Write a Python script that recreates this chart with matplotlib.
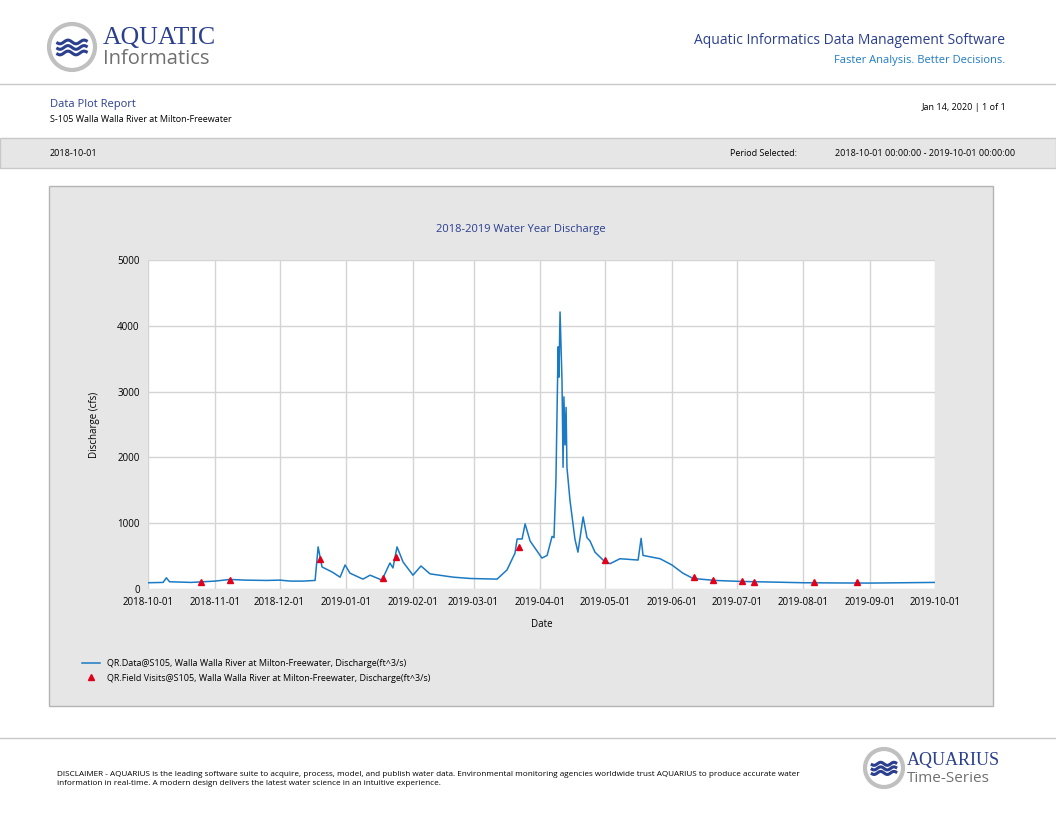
import numpy as np
import pandas as pd
import matplotlib
matplotlib.use("Agg")
import matplotlib.pyplot as plt
import matplotlib.dates as mdates
from matplotlib.patches import Rectangle, Circle

plt.rcParams['font.family'] = ['Open Sans', 'DejaVu Sans']

# discharge series: days since 2018-10-01, cfs
q_day = [0, 7, 8.5, 10, 20, 31, 38, 45, 55, 61.2, 66, 71.9, 77.5, 78.9, 80.7, 85.3, 89.1,
         91.4, 93.7, 99.7, 103, 108.5, 112.2, 113.6, 115.5, 118.3, 122.9, 126.6, 130.8,
         141.5, 149.4, 161.9, 166.5, 170.2, 171.2, 173.5, 174.9, 177.2, 182.7, 185.1,
         187.4, 188.3, 189.2, 190.2, 190.6, 191.1, 192, 192.5, 192.9, 193.4, 193.9, 194.3,
         195.7, 198, 199.4, 201.8, 203.6, 205, 207.3, 212, 214.3, 218.9, 227.3, 228.7,
         229.6, 237.5, 243, 248.1, 252.8, 263, 275, 290, 304, 320, 335, 350, 365]
q_cfs = [95, 100, 170, 110, 100, 120, 145, 135, 130, 135, 120, 120, 130, 640, 335, 260, 180,
         365, 240, 150, 210, 135, 395, 320, 640, 410, 210, 350, 230,
         180, 160, 150, 290, 545, 760, 760, 990, 730, 470, 510,
         800, 780, 1660, 3680, 3220, 4210, 3180, 1850, 2920, 2190, 2760, 1850,
         1350, 760, 560, 1095, 780, 730, 560, 410, 385, 460, 440, 770,
         510, 460, 365, 240, 160, 130, 115, 105, 95, 92, 90, 95, 100]

# field visits
fv_day = [24.6, 38, 80, 109, 115, 172, 212, 253, 262, 275.5, 281, 309, 329]
fv_cfs = [100, 140, 450, 170, 480, 640, 440, 180, 140, 120, 110, 100, 100]

start = pd.Timestamp("2018-10-01")
q_dates = start + pd.to_timedelta(q_day, unit="D")
fv_dates = start + pd.to_timedelta(fv_day, unit="D")

W, H = 1056, 816
fig = plt.figure(figsize=(W / 100, H / 100), dpi=100)

def fx(px): return px / W
def fy(py): return 1 - py / H

# background boxes / rules
bg = fig.add_axes([0, 0, 1, 1], zorder=-5)
bg.set_xlim(0, W); bg.set_ylim(H, 0); bg.axis("off")
bg.plot([0, W], [84, 84], color="#c8c8c8", lw=1)
bg.add_patch(Rectangle((0, 138), W, 30, fc="#e6e6e6", ec="#c8c8c8", lw=1))
bg.add_patch(Rectangle((49, 186), 944, 520, fc="#e6e6e6", ec="#b4b4b4", lw=1))
bg.plot([0, W], [738, 738], color="#c8c8c8", lw=1)

# logos
def logo(cx, cy, r):
    bg.add_patch(Circle((cx, cy), r, fc="white", ec="#c0c0c0", lw=3))
    t = np.linspace(-0.62 * r, 0.62 * r, 60)
    for k in (-0.22, 0.02, 0.26):
        bg.plot(cx + t, cy + k * r + 0.08 * r * np.sin(t / r * 9), color="#2b3f8f", lw=2.2)

logo(72, 47, 23)
fig.text(fx(103), fy(38), "AQUATIC", fontsize=18.5, color="#2b3f8f", family="Liberation Serif", va="center")
fig.text(fx(103), fy(59), "Informatics", fontsize=14.5, color="#707070", va="center")
logo(884, 768, 19)
fig.text(fx(907), fy(760), "AQUARIUS", fontsize=13, color="#2b3f8f", family="Liberation Serif", va="center")
fig.text(fx(907), fy(778), "Time-Series", fontsize=11, color="#707070", va="center")

fig.text(fx(1005), fy(41), "Aquatic Informatics Data Management Software", fontsize=10,
         color="#2b3f8f", ha="right", va="center")
fig.text(fx(1005), fy(60), "Faster Analysis. Better Decisions.", fontsize=8, color="#1f7cc4",
         ha="right", va="center")
fig.text(fx(50), fy(104), "Data Plot Report", fontsize=8, color="#2b3f8f", va="center")
fig.text(fx(50), fy(119), "S-105 Walla Walla River at Milton-Freewater", fontsize=6.5, va="center")
fig.text(fx(1006), fy(107), "Jan 14, 2020 | 1 of 1", fontsize=6.5, ha="right", va="center")
fig.text(fx(50), fy(153), "2018-10-01", fontsize=6.5, va="center")
fig.text(fx(730), fy(153), "Period Selected:", fontsize=6.5, va="center")
fig.text(fx(1015), fy(153), "2018-10-01 00:00:00 - 2019-10-01 00:00:00", fontsize=6.5,
         ha="right", va="center")
fig.text(fx(57), fy(779), "DISCLAIMER - AQUARIUS is the leading software suite to acquire, process, model, and publish water data. "
         "Environmental monitoring agencies worldwide trust AQUARIUS to produce accurate water\n"
         "information in real-time. A modern design delivers the latest water science in an intuitive experience.",
         fontsize=5.9, va="center", linespacing=1.5)

# chart
ax = fig.add_axes([fx(148), fy(589), fx(935 - 148), (589 - 260) / H])
ax.set_facecolor("white")
ax.plot(q_dates, q_cfs, color="#1a7ac4", lw=1.1,
        label="QR.Data@S105, Walla Walla River at Milton-Freewater, Discharge(ft^3/s)")
ax.plot(fv_dates, fv_cfs, ls="none", marker="^", ms=5, color="#e0001a",
        label="QR.Field Visits@S105, Walla Walla River at Milton-Freewater, Discharge(ft^3/s)")
ax.set_xlim(start, pd.Timestamp("2019-10-01"))
ax.set_ylim(0, 5000)
ax.set_yticks(range(0, 5001, 1000))
ax.xaxis.set_major_locator(mdates.MonthLocator())
ax.xaxis.set_major_formatter(mdates.DateFormatter("%Y-%m-%d"))
ax.grid(True, color="#d4d4d4", lw=1)
ax.tick_params(length=0, labelsize=7, pad=6)
for s in ax.spines.values():
    s.set_visible(False)
ax.set_xlabel("Date", fontsize=7, labelpad=8)
ax.set_ylabel("Discharge (cfs)", fontsize=7, labelpad=12)
ax.set_title("2018-2019 Water Year Discharge", fontsize=8, color="#2b3f8f", pad=20, x=0.474)
ax.legend(loc="upper left", bbox_to_anchor=(fx(74), fy(651)), bbox_transform=fig.transFigure,
          frameon=False, fontsize=6.5, handlelength=2, labelspacing=0.6)

fig.savefig("out.png", dpi=100)
